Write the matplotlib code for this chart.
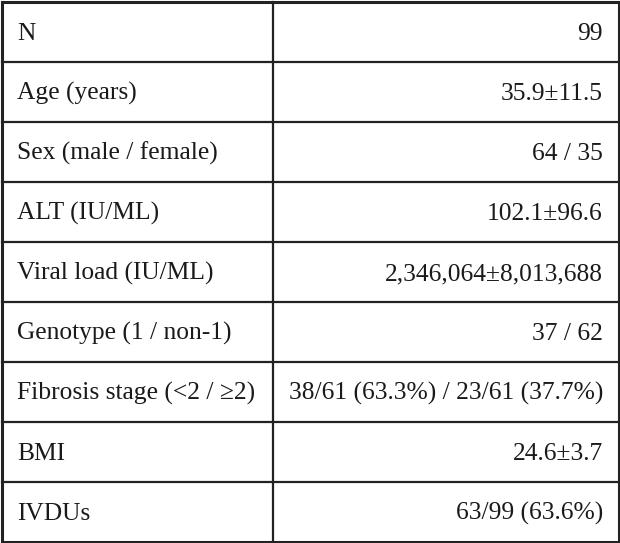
import matplotlib
matplotlib.use("Agg")
import matplotlib.pyplot as plt

labels = ["N", "Age (years)", "Sex (male / female)", "ALT (IU/ML)",
          "Viral load (IU/ML)", "Genotype (1 / non-1)",
          "Fibrosis stage (<2 / \u22652)", "BMI", "IVDUs"]
values = ["99", "35.9\u00b111.5", "64 / 35", "102.1\u00b196.6",
          "2,346,064\u00b18,013,688", "37 / 62",
          "38/61 (63.3%) / 23/61 (37.7%)", "24.6\u00b13.7", "63/99 (63.6%)"]

plt.rcParams['font.family'] = ['Liberation Serif', 'DejaVu Serif']

fig = plt.figure(figsize=(6.2, 5.43), dpi=100)
ax = fig.add_axes([0, 0, 1, 1])
ax.set_xlim(0, 620)
ax.set_ylim(543, 0)
ax.axis('off')

top, bottom = 1.5, 541.5
left, right = 1.5, 618.5
split = 272.5
n = len(labels)
row_h = (bottom - top) / n
line_col = '#222222'

for i in range(n + 1):
    y = top + i * row_h
    ax.plot([left, right], [y, y], color=line_col, lw=1.6 if 0 < i < n else 2.2,
            solid_capstyle='projecting')
for x in (left, right):
    ax.plot([x, x], [top, bottom], color=line_col, lw=2.2, solid_capstyle='projecting')
ax.plot([split, split], [top, bottom], color=line_col, lw=1.6)

for i, (lab, val) in enumerate(zip(labels, values)):
    yb = top + i * row_h + 38.5
    ax.text(17, yb, lab, fontsize=18.4, va='baseline', ha='left', color='#1a1a1a')
    ax.text(603, yb, val, fontsize=18.4, va='baseline', ha='right', color='#1a1a1a')

fig.savefig("out.png", dpi=100)
